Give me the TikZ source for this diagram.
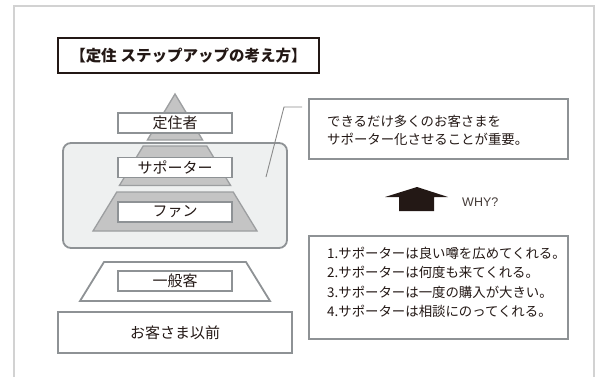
\documentclass[tikz,border=0pt]{standalone}
\usepackage{fontspec}
\setmainfont{Noto Sans CJK JP}
\newfontfamily\latinsans{Liberation Sans}
\definecolor{ink}{HTML}{231815}
\definecolor{framegray}{HTML}{D2D2D2}
\definecolor{boxgray}{HTML}{8E9295}
\definecolor{tierfill}{HTML}{C4C4C4}
\definecolor{tierline}{HTML}{9C9EA0}
\definecolor{panelfill}{HTML}{EEF0F0}
\definecolor{leadgray}{HTML}{8A8A8A}
\tikzset{
  labelbox/.style={draw=boxgray, line width=1.8pt, fill=white, minimum width=114pt, minimum height=20pt, inner sep=0pt, text=ink, font=\fontsize{15}{16}\selectfont},
  tier/.style={draw=tierline, line width=1.3pt, fill=tierfill, line join=miter},
  infobox/.style={draw=boxgray, line width=1.8pt, fill=white, inner sep=0pt},
  bodytext/.style={text=ink, anchor=west, inner sep=0pt, font=\fontsize{13.4}{15}\selectfont},
}
\begin{document}
\begin{tikzpicture}[x=1pt, y=-1pt]
\useasboundingbox (0,0) rectangle (595,376);
% outer frame
\draw[framegray, line width=2pt] (13.5,377) -- (13.5,6) -- (594,6) -- (594,377);
% title
\node[draw=ink, line width=1.8pt, minimum width=261pt, minimum height=35pt, inner sep=0pt, text=ink, font=\fontsize{15.5}{17}\selectfont\bfseries] (title) at (188.5,55.5) {【定住\hspace{4pt}ステップアップの考え方】};
% panel
\node[draw=boxgray, line width=1.8pt, fill=panelfill, rounded corners=8pt, minimum width=224pt, minimum height=105pt, inner sep=0pt] (panel) at (175,195.5) {};
% pyramid tiers
\draw[tier] (175,94) -- (202.6,140) -- (147.4,140) -- cycle;
\draw[tier] (143.2,146) -- (206.8,146) -- (230.6,185.5) -- (119.4,185.5) -- cycle;
\draw[tier] (116.8,192) -- (233.2,192) -- (257,231) -- (93,231) -- cycle;
% general customers trapezoid
\draw[draw=boxgray, line width=1.8pt, fill=white] (104,262) -- (246,262) -- (270,301) -- (80,301) -- cycle;
% labels
\node[labelbox] (teiju) at (175,123) {定住者};
\node[labelbox] (supporter) at (175,167.5) {サポーター};
\node[labelbox] (fan) at (175,212) {ファン};
\node[labelbox] (ippan) at (175,281) {一般客};
\node[labelbox, minimum width=234pt, minimum height=41pt] (mae) at (175,332.5) {お客さま以前};
% callout box
\node[infobox, minimum width=259pt, minimum height=60pt] (callout) at (438.5,129) {};
\node[bodytext] (c1) at (327,121) {できるだけ多くのお客さまを};
\node[bodytext] (c2) at (327,139) {サポーター化させることが重要。};
\coordinate (leadA) at (266,177);
\coordinate (leadB) at (284,107);
\coordinate (leadC) at (302,107);
\draw[leadgray, line width=0.9pt] (leadA) -- (leadB) -- (leadC);
% arrow
\fill[ink] (385,197) -- (417,187) -- (448,197) -- (434,197) -- (434,211) -- (399,211) -- (399,197) -- cycle;
\node[anchor=west, inner sep=0pt, text=ink!85, font=\latinsans\fontsize{12.5}{14}\selectfont] (why) at (462,202) {WHY?};
% reasons box
\node[infobox, minimum width=259pt, minimum height=103pt] (reasons) at (438.5,287.5) {};
\node[bodytext] (r1) at (327,253) {1.サポーターは良い噂を広めてくれる。};
\node[bodytext] (r2) at (327,272.5) {2.サポーターは何度も来てくれる。};
\node[bodytext] (r3) at (327,292) {3.サポーターは一度の購入が大きい。};
\node[bodytext] (r4) at (327,311.5) {4.サポーターは相談にのってくれる。};
\end{tikzpicture}
\end{document}
